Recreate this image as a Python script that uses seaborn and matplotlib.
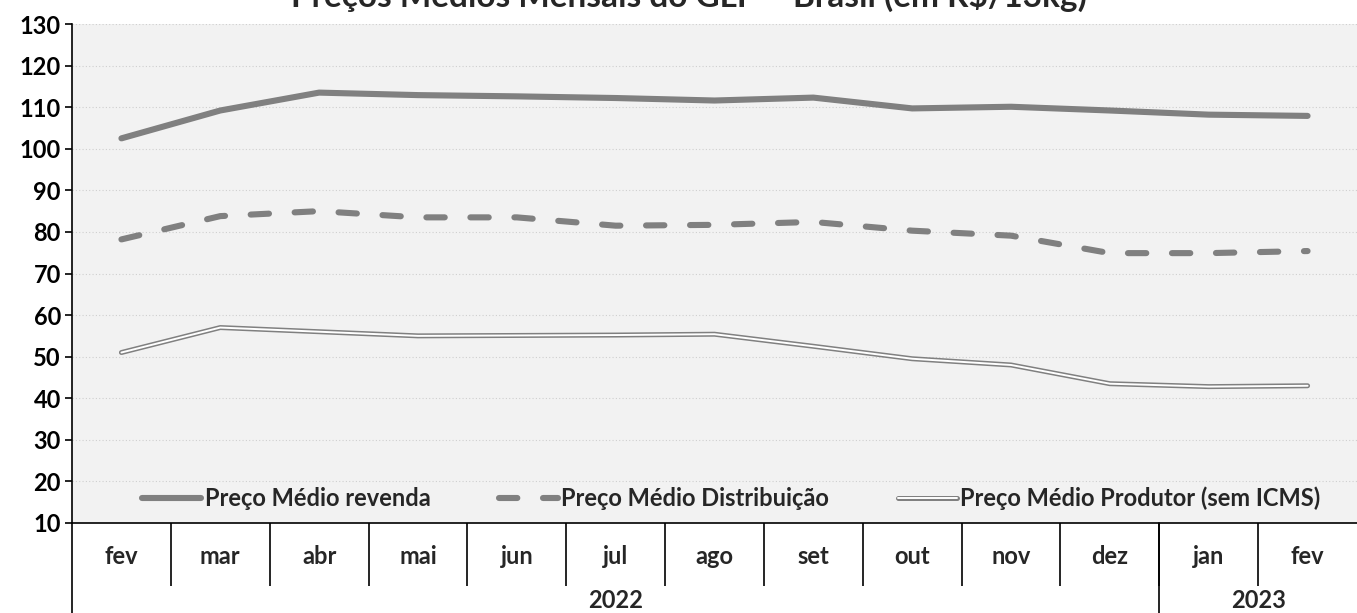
import matplotlib
matplotlib.use("Agg")
import matplotlib.pyplot as plt
import seaborn as sns
import pandas as pd
from matplotlib.ticker import FixedLocator

meses = ["fev", "mar", "abr", "mai", "jun", "jul", "ago",
         "set", "out", "nov", "dez", "jan", "fev"]
anos = ["2022", "2023"]
meses_por_ano = [11, 2]

revenda = [102.5, 109.2, 113.5, 112.9, 112.6, 112.2, 111.6,
           112.3, 109.7, 110.1, 109.2, 108.2, 107.9]
distribuicao = [78.2, 83.8, 85.0, 83.5, 83.5, 81.5, 81.7,
                82.4, 80.3, 79.1, 74.9, 74.9, 75.4]
produtor = [51.0, 57.0, 56.0, 55.0, 55.1, 55.2, 55.4,
            52.5, 49.5, 48.0, 43.5, 42.8, 43.0]

nomes = ["Preço Médio revenda", "Preço Médio Distribuição",
         "Preço Médio Produtor (sem ICMS)"]

df = pd.DataFrame({
    "pos": range(len(meses)),
    "revenda": revenda,
    "distribuicao": distribuicao,
    "produtor": produtor,
})

sns.set_style("white")
plt.rcParams["font.family"] = ["Lato", "DejaVu Sans"]
plt.rcParams["font.weight"] = "bold"

cinza = "#808080"
fs = 17

fig = plt.figure(figsize=(13.57, 6.13), dpi=100)
ax = fig.add_axes([72 / 1357, 1 - 523 / 613, 1 - 72 / 1357, 499 / 613])
ax.set_facecolor("#f2f2f2")

sns.lineplot(data=df, x="pos", y="revenda", ax=ax, color=cinza,
             lw=4.4, solid_capstyle="round")
sns.lineplot(data=df, x="pos", y="distribuicao", ax=ax, color=cinza,
             lw=4.4, dashes=False)
ax.lines[-1].set_dashes((3, 4.2))
ax.lines[-1].set_dash_capstyle("round")
sns.lineplot(data=df, x="pos", y="produtor", ax=ax, color=cinza,
             lw=3.6, solid_capstyle="round")
sns.lineplot(data=df, x="pos", y="produtor", ax=ax, color="white",
             lw=1.4, solid_capstyle="round")

l_rev, l_dist, l_prod_out, l_prod_in = ax.lines[:4]

ax.set_xlim(-0.5, len(meses) - 0.5)
ax.set_ylim(10, 130)
ax.set_yticks(range(10, 131, 10))
ax.yaxis.grid(True, color="#cfcfcf", linestyle=(0, (1, 2)), lw=0.8)
ax.set_axisbelow(True)
ax.set_xlabel("")
ax.set_ylabel("")

for s in ["top", "right"]:
    ax.spines[s].set_visible(False)
ax.spines["left"].set_color("black")
ax.spines["bottom"].set_color("black")
ax.spines["left"].set_linewidth(1.2)
ax.spines["bottom"].set_linewidth(1.2)

ax.tick_params(axis="y", direction="out", left=True, length=5, width=1.2,
               labelsize=fs, pad=3, colors="black")
ax.set_xticks(range(len(meses)))
ax.set_xticklabels(meses, fontsize=fs, fontweight="bold")
ax.tick_params(axis="x", which="major", bottom=True, length=0, pad=16)
ax.xaxis.set_minor_locator(FixedLocator([i + 0.5 for i in range(len(meses) - 1)]))
ax.tick_params(axis="x", which="minor", bottom=True, direction="out",
               length=45, width=1.2, color="black")

# linhas dos anos e rótulos
tr = ax.get_xaxis_transform()
inicio = -0.5
for ano, n in zip(anos, meses_por_ano):
    ax.plot([inicio, inicio], [0, -0.2], transform=tr, color="black",
            lw=1.2, clip_on=False)
    ax.text(inicio + n / 2, -0.155, ano, transform=tr, ha="center",
            va="center", fontsize=fs, fontweight="bold")
    inicio += n

leg = ax.legend([l_rev, l_dist, (l_prod_out, l_prod_in)], nomes,
                loc="center", bbox_to_anchor=(0.513, 0.05), ncol=3,
                frameon=False, fontsize=fs, handlelength=2.5,
                handletextpad=0.15, columnspacing=2.9)
for t in leg.get_texts():
    t.set_fontweight("bold")

fig.text(0.508, 1 - 7 / 613, "Preços Médios Mensais do GLP – Brasil (em R$/13kg)",
         ha="center", va="baseline", fontsize=24, fontweight="bold")

fig.savefig("out.png", dpi=100)
